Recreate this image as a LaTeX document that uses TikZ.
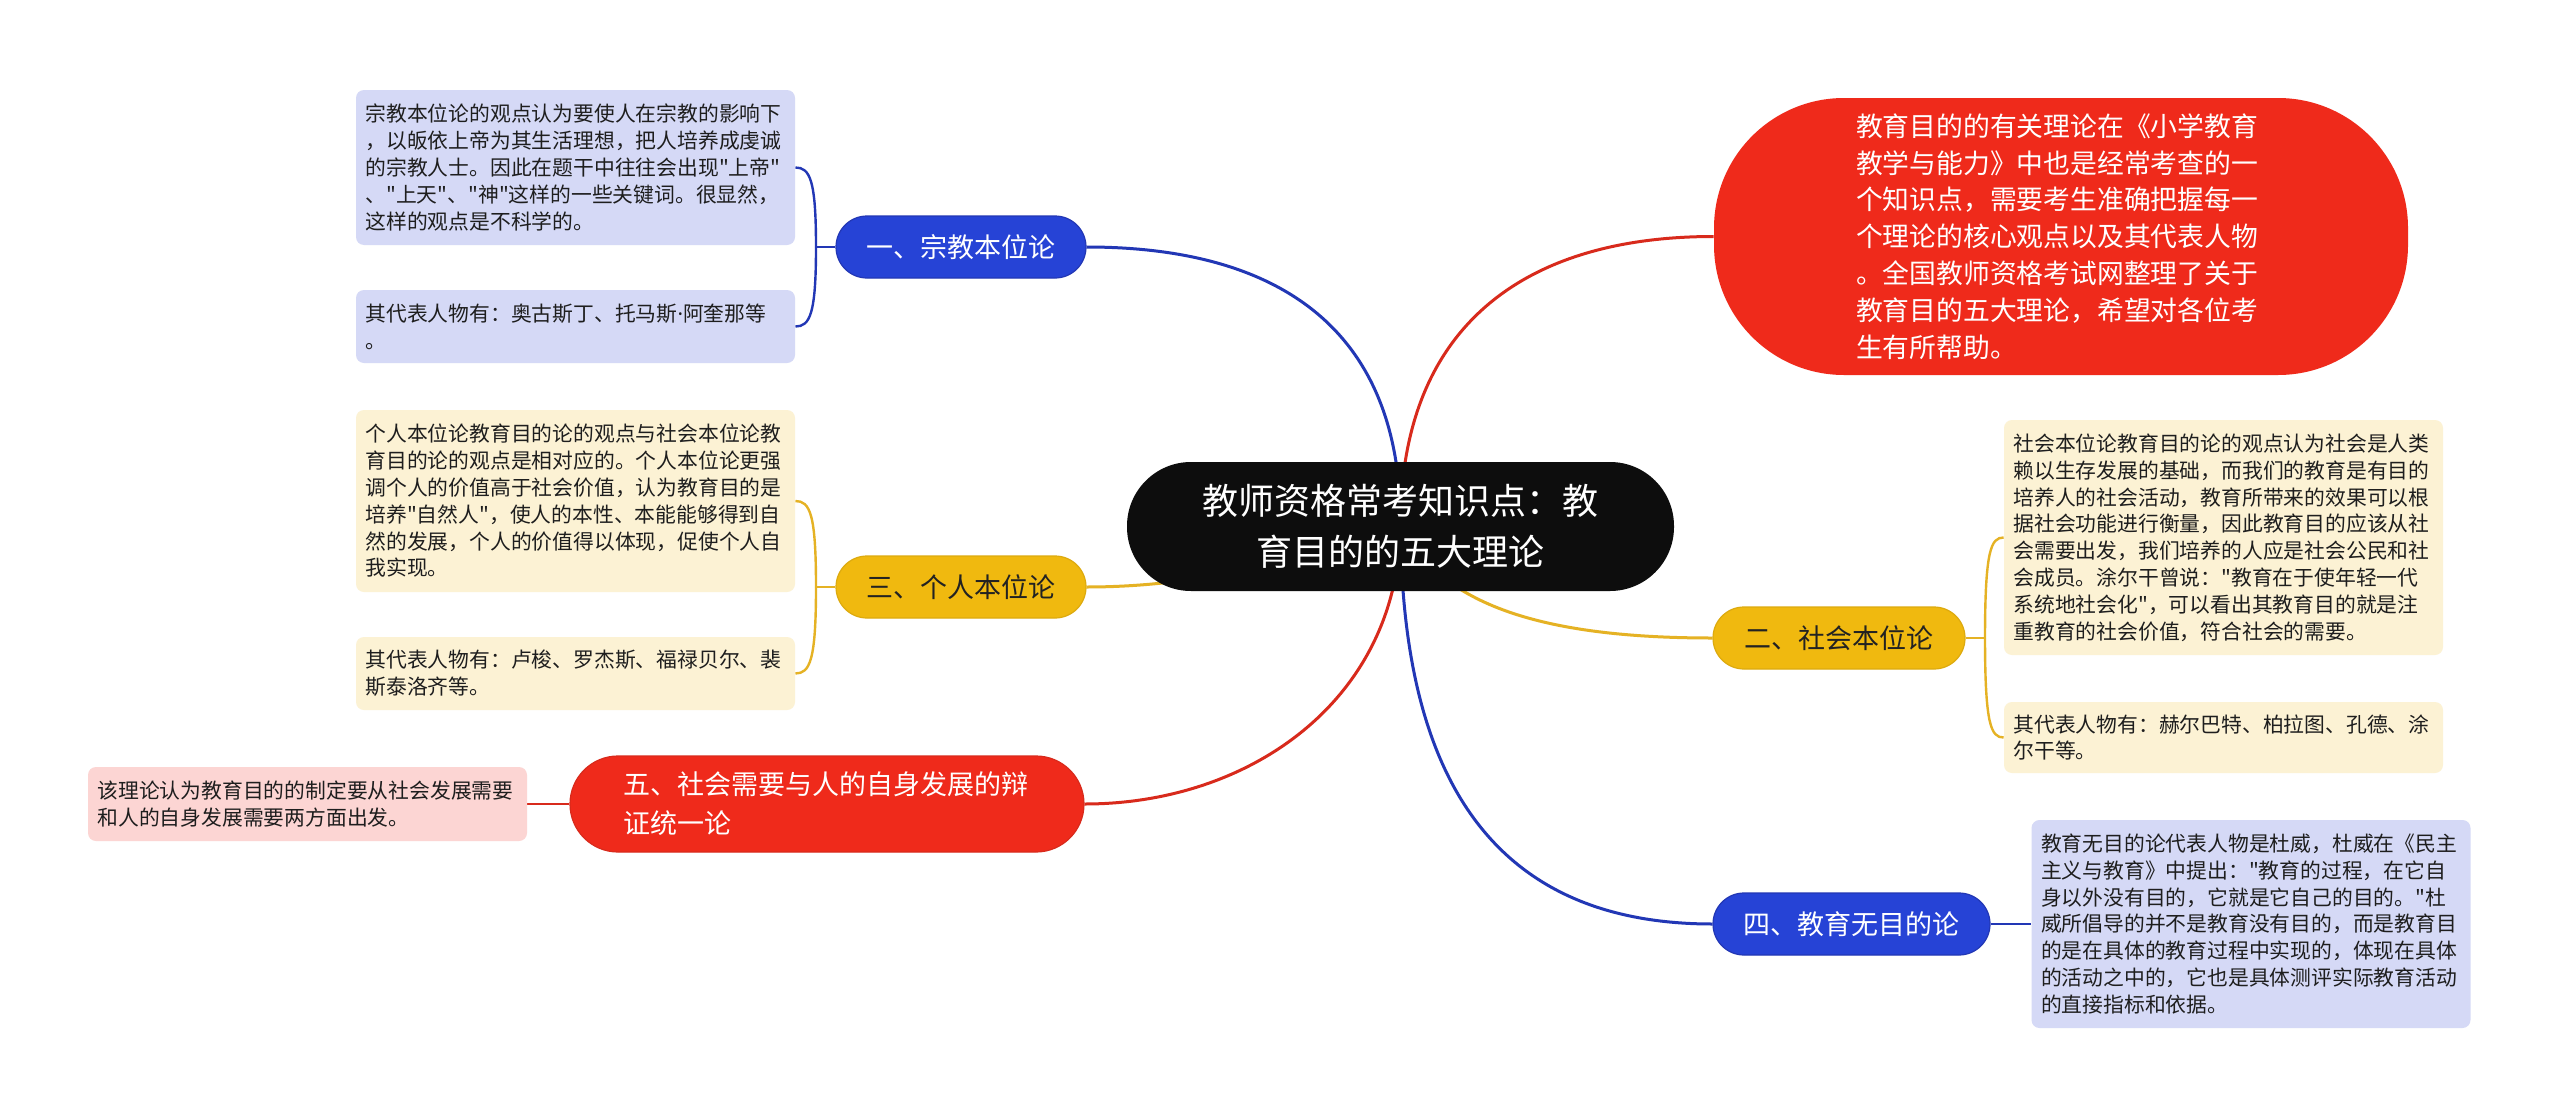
\documentclass[tikz,border=0pt]{standalone}
\usepackage{fontspec}
\newfontfamily\cjkfont{Noto Sans CJK SC}
\newfontfamily\latinfont{Noto Sans}
\usetikzlibrary{backgrounds}
\definecolor{cblue}{HTML}{2643D6}
\definecolor{cblueline}{HTML}{2237B5}
\definecolor{cyellow}{HTML}{F0B90F}
\definecolor{cyellowline}{HTML}{E5B224}
\definecolor{cred}{HTML}{EF2A1B}
\definecolor{credline}{HTML}{D82A1C}
\definecolor{cblack}{HTML}{0D0D0D}
\definecolor{lblue}{HTML}{D5D9F6}
\definecolor{lyellow}{HTML}{FCF2D4}
\definecolor{lpink}{HTML}{FCD5D3}
\definecolor{ltext}{HTML}{1E1E1E}
\definecolor{ydark}{HTML}{222222}
\newcommand{\mdot}{{\latinfont ·}}
\begin{document}
\cjkfont
\begin{tikzpicture}[x=0.5pt,y=-0.5pt,
  branch/.style={rounded corners=15.5pt, minimum height=31pt, inner sep=0pt,
    font={\fontsize{13.5}{18}\selectfont}, line width=0.6pt},
  bluebr/.style={branch, fill=cblue, draw=cblueline, text=white},
  yellowbr/.style={branch, fill=cyellow, draw=cyellow!92!black, text=ydark},
  leaf/.style={rounded corners=4pt, inner sep=0pt, minimum width=219.5pt,
    text width=210pt, align=left, text=ltext,
    font={\fontsize{10.4}{13.4}\selectfont}},
  blueleaf/.style={leaf, fill=lblue},
  yellowleaf/.style={leaf, fill=lyellow},
  pinkleaf/.style={leaf, fill=lpink},
  conn/.style={line width=1.5pt},
  brk/.style={line width=1.2pt}
]
\useasboundingbox (0,0) rectangle (2560,1119);

% central topic
\node[fill=cblack, text=white, rounded corners=32pt, minimum width=273.5pt,
  minimum height=64.5pt, inner sep=0pt, align=center,
  font={\fontsize{18}{25.5}\selectfont}] (c) at (1400.5,526.5)
  {教师资格常考知识点：教\\育目的的五大理论};

% intro bubble
\node[fill=cred, text=white, rounded corners=65pt, minimum width=347pt,
  minimum height=138.5pt, inner sep=0pt, text width=205pt, align=left,
  font={\fontsize{13.4}{18.4}\selectfont}] (intro) at (2061,236.5)
  {教育目的的有关理论在《小学教育\\教学与能力》中也是经常考查的一\\个知识点，需要考生准确把握每一\\个理论的核心观点以及其代表人物\\。全国教师资格考试网整理了关于\\教育目的五大理论，希望对各位考\\生有所帮助。};

% branches
\node[bluebr, minimum width=125pt] (b1) at (961,247) {一、宗教本位论};
\node[yellowbr, minimum width=125pt] (b3) at (961,587) {三、个人本位论};
\node[yellowbr, minimum width=126pt] (b2) at (1839,638) {二、社会本位论};
\node[bluebr, minimum width=138.5pt] (b4) at (1851.5,924) {四、教育无目的论};
\node[branch, fill=cred, draw=credline, text=white, rounded corners=24pt,
  minimum width=257pt, minimum height=48pt, text width=204pt, align=left,
  font={\fontsize{13.5}{19.6}\selectfont}] (b5) at (827,804)
  {五、社会需要与人的自身发展的辩\\证统一论};

% leaves
\node[blueleaf, minimum height=77.5pt] (l1) at (575.5,167.5)
  {宗教本位论的观点认为要使人在宗教的影响下\\，以皈依上帝为其生活理想，把人培养成虔诚\\的宗教人士。因此在题干中往往会出现"上帝"\\、"上天"、"神"这样的一些关键词。很显然，\\这样的观点是不科学的。};
\node[blueleaf, minimum height=36.5pt] (l2) at (575.5,326.5)
  {其代表人物有：奥古斯丁、托马斯\mdot 阿奎那等\\。};
\node[yellowleaf, minimum height=91pt] (l3) at (575.5,501)
  {个人本位论教育目的论的观点与社会本位论教\\育目的论的观点是相对应的。个人本位论更强\\调个人的价值高于社会价值，认为教育目的是\\培养"自然人"，使人的本性、本能能够得到自\\然的发展，个人的价值得以体现，促使个人自\\我实现。};
\node[yellowleaf, minimum height=36.5pt] (l4) at (575.5,673.5)
  {其代表人物有：卢梭、罗杰斯、福禄贝尔、裴\\斯泰洛齐等。};
\node[pinkleaf, minimum height=37pt] (l5) at (307.5,804)
  {该理论认为教育目的的制定要从社会发展需要\\和人的自身发展需要两方面出发。};
\node[yellowleaf, minimum height=117.5pt] (l6) at (2223.5,537.5)
  {社会本位论教育目的论的观点认为社会是人类\\赖以生存发展的基础，而我们的教育是有目的\\培养人的社会活动，教育所带来的效果可以根\\据社会功能进行衡量，因此教育目的应该从社\\会需要出发，我们培养的人应是社会公民和社\\会成员。涂尔干曾说："教育在于使年轻一代\\系统地社会化"，可以看出其教育目的就是注\\重教育的社会价值，符合社会的需要。};
\node[yellowleaf, minimum height=35.5pt] (l7) at (2223.5,737.5)
  {其代表人物有：赫尔巴特、柏拉图、孔德、涂\\尔干等。};
\node[blueleaf, minimum height=104pt] (l8) at (2251,924)
  {教育无目的论代表人物是杜威，杜威在《民主\\主义与教育》中提出："教育的过程，在它自\\身以外没有目的，它就是它自己的目的。"杜\\威所倡导的并不是教育没有目的，而是教育目\\的是在具体的教育过程中实现的，体现在具体\\的活动之中的，它也是具体测评实际教育活动\\的直接指标和依据。};

\coordinate (j1) at (816,247);
\coordinate (j3) at (816,587);
\coordinate (j2) at (1985,638);

\begin{scope}[on background layer]
  \fill[white] (0,0) rectangle (2560,1119);
  % main connectors
  \draw[conn, credline] (c.center) .. controls (1400,330) and (1520,236.5) .. (intro.west);
  \draw[conn, cblueline] (c.center) .. controls (1402,330) and (1280,247) .. (b1.east);
  \draw[conn, cyellowline] (c.center) .. controls (1300,560) and (1200,587) .. (b3.east);
  \draw[conn, credline] (c.center) .. controls (1398,700) and (1250,804) .. (b5.east);
  \draw[conn, cyellowline] (c.center) .. controls (1440,600) and (1530,638) .. (b2.west);
  \draw[conn, cblueline] (c.center) .. controls (1402,760) and (1480,924) .. (b4.west);
  % leaf connectors
  \draw[brk, cblueline] (b1.west) -- (j1);
  \draw[brk, cblueline] (j1) .. controls (816,180) and (810,167.5) .. (l1.east);
  \draw[brk, cblueline] (j1) .. controls (816,314) and (810,326.5) .. (l2.east);
  \draw[brk, cyellowline] (b3.west) -- (j3);
  \draw[brk, cyellowline] (j3) .. controls (816,514) and (810,501) .. (l3.east);
  \draw[brk, cyellowline] (j3) .. controls (816,660) and (810,673.5) .. (l4.east);
  \draw[brk, cyellowline] (b2.east) -- (j2);
  \draw[brk, cyellowline] (j2) .. controls (1985,550) and (1991,537.5) .. (l6.west);
  \draw[brk, cyellowline] (j2) .. controls (1985,725) and (1991,737.5) .. (l7.west);
  \draw[brk, credline] (b5.west) -- (l5.east);
  \draw[brk, cblueline] (b4.east) -- (l8.west);
\end{scope}
\end{tikzpicture}
\end{document}
